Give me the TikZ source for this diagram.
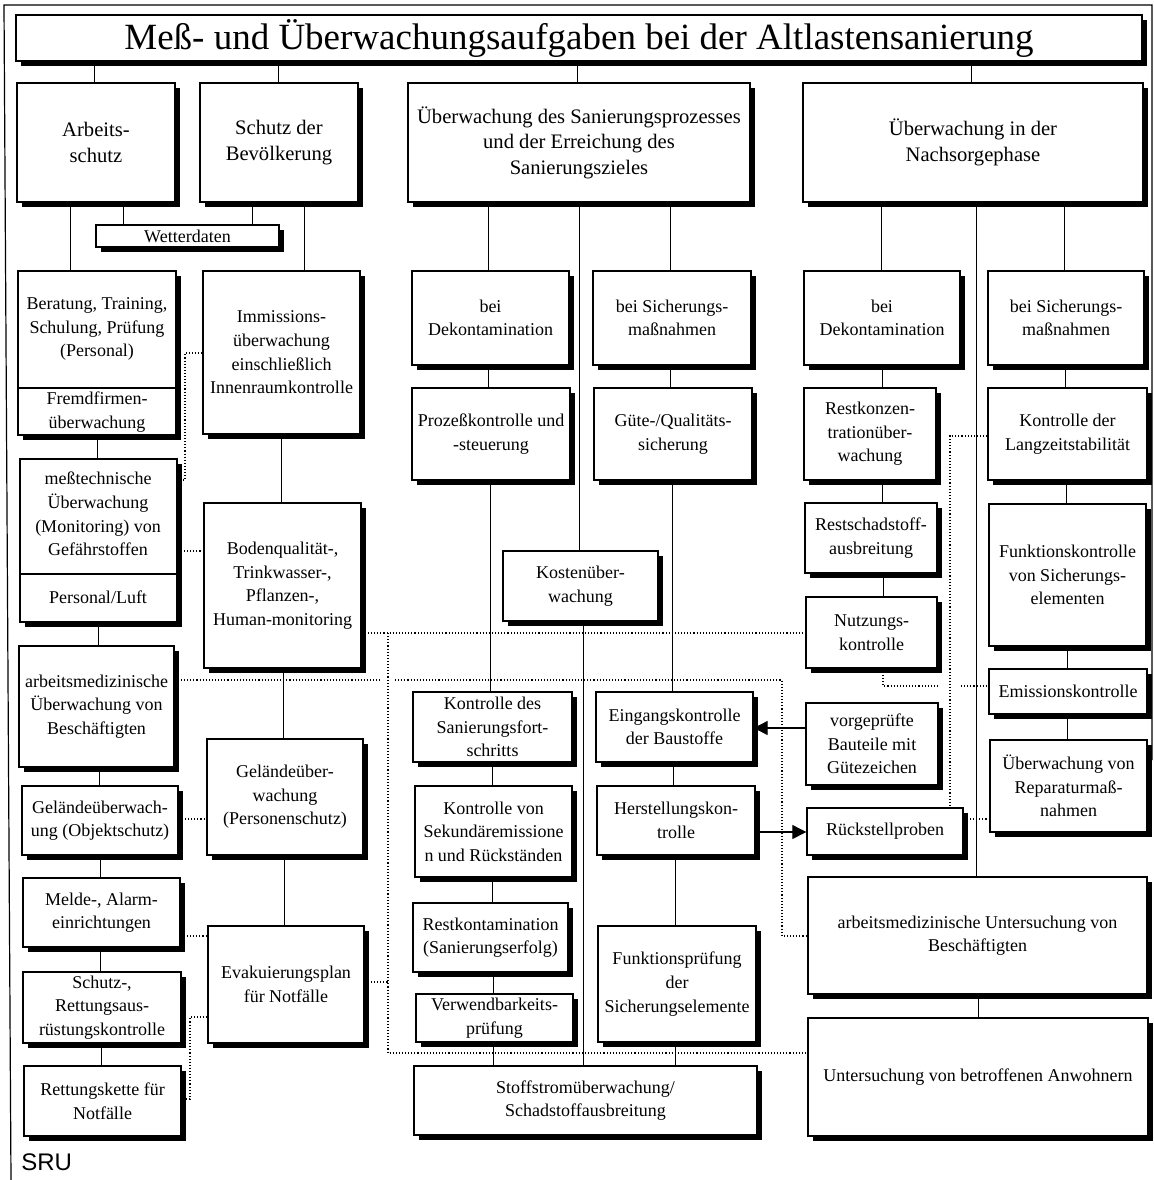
\documentclass[tikz,border=0pt]{standalone}
\usepackage{fontspec}
\setmainfont{Liberation Serif}
\newfontfamily\srufont{Liberation Sans}
\usetikzlibrary{shadows,backgrounds,arrows.meta}
\tikzset{
 box/.style={draw, line width=0.7pt, fill=white, align=center, inner sep=1pt,
   font=\fontsize{9}{11.8}\selectfont,
   general shadow={fill=black, shadow xshift=2.3pt, shadow yshift=-2.3pt}},
 bigbox/.style={font=\fontsize{10.3}{12.8}\selectfont},
 titlebox/.style={font=\fontsize{18.5}{22}\selectfont},
 conn/.style={line width=0.5pt},
 dots/.style={line width=0.55pt, densely dotted},
 arr/.style={line width=0.6pt, -{Triangle[length=7pt,width=7pt]}},
 lbl/.style={align=center, inner sep=0pt, font=\fontsize{9}{11.8}\selectfont}
}
\newcommand\mybox[7][]{%
 \pgfmathsetmacro\bxcx{(#3+#5)/2}\pgfmathsetmacro\bxcy{(#4+#6)/2}%
 \pgfmathsetmacro\bxw{(#5-#3)*0.5}\pgfmathsetmacro\bxh{(#6-#4)*0.5}%
 \node[box, #1, minimum width=\bxw pt, minimum height=\bxh pt] (#2) at (\bxcx,\bxcy) {#7};}
\newcommand\vl[3]{\draw[conn] (#1.south -| #3,0) -- (#2.north -| #3,0);}
\begin{document}
\begin{tikzpicture}[x=0.5pt,y=-0.5pt]
\useasboundingbox (0,0) rectangle (1154,1180);
% boxes
\mybox[titlebox]{title}{16}{15}{1142}{61}{Meß- und Überwachungsaufgaben bei der Altlastensanierung}
\mybox[bigbox]{arb}{17}{83}{175}{202}{Arbeits-\\schutz}
\mybox[bigbox]{bev}{200}{83}{358}{202}{Schutz der\\Bevölkerung}
\mybox[bigbox]{san}{408}{83}{750}{202}{Überwachung des Sanierungsprozesses\\und der Erreichung des\\Sanierungszieles}
\mybox[bigbox]{nach}{803}{83}{1143}{202}{Überwachung in der\\Nachsorgephase}
\mybox{wet}{96}{225}{279}{247}{Wetterdaten}
\mybox{ber}{18}{271}{176}{435}{}
\draw[line width=0.7pt] (ber.west |- 0,388) -- (ber.east |- 0,388);
\node[lbl] (bertxt) at (97,329) {Beratung, Training,\\Schulung, Prüfung\\(Personal)};
\node[lbl] (fremdtxt) at (97,412) {Fremdfirmen-\\überwachung};
\mybox{imm}{203}{271}{360}{434}{Immissions-\\überwachung\\einschließlich\\Innenraumkontrolle}
\mybox{mdek}{412}{271}{569}{365}{bei\\Dekontamination}
\mybox{msich}{593}{271}{751}{365}{bei Sicherungs-\\maßnahmen}
\mybox{rdek}{804}{271}{960}{365}{bei\\Dekontamination}
\mybox{rsich}{988}{271}{1144}{365}{bei Sicherungs-\\maßnahmen}
\mybox{proz}{412}{388}{570}{480}{Prozeßkontrolle und\\-steuerung}
\mybox{guete}{594}{388}{752}{480}{Güte-/Qualitäts-\\sicherung}
\mybox{rkonz}{804}{388}{936}{480}{Restkonzen-\\trationüber-\\wachung}
\mybox{langz}{988}{388}{1147}{480}{Kontrolle der\\Langzeitstabilität}
\mybox{mess}{20}{459}{177}{622}{}
\draw[line width=0.7pt] (mess.west |- 0,574) -- (mess.east |- 0,574);
\node[lbl] (messtxt) at (98,514) {meßtechnische\\Überwachung\\(Monitoring) von\\Gefährstoffen};
\node[lbl] (perstxt) at (98,597) {Personal/Luft};
\mybox{boden}{204}{503}{361}{668}{Bodenqualität-,\\Trinkwasser-,\\Pflanzen-,\\Human-monitoring}
\mybox{rsch}{805}{503}{937}{573}{Restschadstoff-\\ausbreitung}
\mybox{fkon}{989}{504}{1146}{646}{Funktionskontrolle\\von Sicherungs-\\elementen}
\mybox{kost}{503}{551}{658}{621}{Kostenüber-\\wachung}
\mybox{nutz}{806}{597}{937}{668}{Nutzungs-\\kontrolle}
\mybox{arbmed}{19}{646}{174}{767}{arbeitsmedizinische\\Überwachung von\\Beschäftigten}
\mybox{emis}{989}{669}{1147}{714}{Emissionskontrolle}
\mybox{kfort}{413}{692}{572}{762}{Kontrolle des\\Sanierungsfort-\\schritts}
\mybox{eing}{596}{692}{753}{762}{Eingangskontrolle\\der Baustoffe}
\mybox{vor}{806}{703}{938}{785}{vorgeprüfte\\Bauteile mit\\Gütezeichen}
\mybox{gelP}{207}{739}{363}{855}{Geländeüber-\\wachung\\(Personenschutz)}
\mybox{rep}{990}{740}{1147}{832}{Überwachung von\\Reparaturmaß-\\nahmen}
\mybox{gelO}{22}{786}{178}{855}{Geländeüberwach-\\ung (Objektschutz)}
\mybox{ksek}{415}{786}{572}{877}{Kontrolle von\\Sekundäremissione\\n und Rückständen}
\mybox{herst}{597}{786}{755}{855}{Herstellungskon-\\trolle}
\mybox{rueck}{807}{808}{963}{855}{Rückstellproben}
\mybox{untb}{808}{877}{1147}{994}{arbeitsmedizinische Untersuchung von\\Beschäftigten}
\mybox{melde}{23}{878}{180}{947}{Melde-, Alarm-\\einrichtungen}
\mybox{rkont}{413}{903}{568}{972}{Restkontamination\\(Sanierungserfolg)}
\mybox{fpruef}{598}{926}{756}{1042}{Funktionsprüfung\\der\\Sicherungselemente}
\mybox{evak}{208}{926}{364}{1043}{Evakuierungsplan\\für Notfälle}
\mybox{schutz}{23}{972}{181}{1043}{Schutz-,\\Rettungsaus-\\rüstungskontrolle}
\mybox{verw}{416}{994}{573}{1042}{Verwendbarkeits-\\prüfung}
\mybox{anw}{808}{1018}{1148}{1136}{Untersuchung von betroffenen Anwohnern}
\mybox{stoff}{414}{1066}{757}{1135}{Stoffstromüberwachung/\\Schadstoffausbreitung}
\mybox{rett}{24}{1066}{181}{1136}{Rettungskette für\\Notfälle}
\node[anchor=base west, inner sep=0pt, font=\srufont\fontsize{12}{14}\selectfont] (sru) at (21,1170) {SRU};
% arrows
\draw[arr] (vor.west |- 0,728) -- (eing.east |- 0,728);
\draw[arr] (herst.east |- 0,832) -- (rueck.west |- 0,832);
\begin{pgfonlayer}{background}
\fill[white] (0,0) rectangle (1154,1180);
\draw[line width=0.6pt] (11,1180) -- (4,5) -- (1152,5) -- (1152,760);
% solid connectors
\vl{title}{arb}{94}\vl{title}{bev}{278}\vl{title}{san}{577}\vl{title}{nach}{971}
\vl{arb}{wet}{123}\vl{bev}{wet}{252}
\vl{arb}{ber}{70}\vl{bev}{imm}{304}
\vl{san}{mdek}{488}\vl{san}{msich}{670}\vl{san}{kost}{579}
\vl{nach}{rdek}{881}\vl{nach}{rsich}{1064}\vl{nach}{untb}{976}
\vl{ber}{mess}{97}\vl{imm}{boden}{281}\vl{mess}{arbmed}{98}\vl{boden}{gelP}{283}
\vl{arbmed}{gelO}{99}\vl{gelO}{melde}{100}\vl{gelP}{evak}{284}\vl{melde}{schutz}{100}\vl{schutz}{rett}{101}
\vl{mdek}{proz}{488}\vl{proz}{kfort}{490}\vl{kfort}{ksek}{492}\vl{ksek}{rkont}{492}\vl{rkont}{verw}{493}\vl{verw}{stoff}{493}
\vl{msich}{guete}{670}\vl{guete}{eing}{672}\vl{eing}{herst}{673}\vl{herst}{fpruef}{675}\vl{fpruef}{stoff}{675}
\vl{kost}{stoff}{583}
\vl{rdek}{rkonz}{882}\vl{rkonz}{rsch}{882}\vl{rsch}{nutz}{883}
\vl{rsich}{langz}{1065}\vl{langz}{fkon}{1066}\vl{fkon}{emis}{1067}\vl{emis}{rep}{1067}
\vl{untb}{anw}{978}
% dotted connectors
\draw[dots] (boden.east |- 0,633) -- (nutz.west |- 0,633);
\draw[dots] (388,633) -- (388,1053) -- (anw.west |- 0,1053);
\draw[dots] (evak.east |- 0,982) -- (388,982);
\draw[dots] (arbmed.east |- 0,680) -- (380,680);
\draw[dots] (395,680) -- (782,680) -- (782,936) -- (untb.west |- 0,936);
\draw[dots] (langz.west |- 0,436) -- (950,436) -- (rueck.north -| 950,0);
\draw[dots] (nutz.south -| 883,0) -- (883,686) -- (940,686);
\draw[dots] (961,686) -- (emis.west |- 0,686);
\draw[dots] (rueck.east |- 0,819) -- (rep.west |- 0,819);
\draw[dots] (imm.west |- 0,353) -- (185,353) -- (185,480) -- (mess.east |- 0,480);
\draw[dots] (mess.east |- 0,551) -- (boden.west |- 0,551);
\draw[dots] (gelO.east |- 0,819) -- (gelP.west |- 0,819);
\draw[dots] (melde.east |- 0,936) -- (evak.west |- 0,936);
\draw[dots] (evak.west |- 0,1017) -- (190,1017) -- (190,1099) -- (rett.east |- 0,1099);
\end{pgfonlayer}
\end{tikzpicture}
\end{document}
